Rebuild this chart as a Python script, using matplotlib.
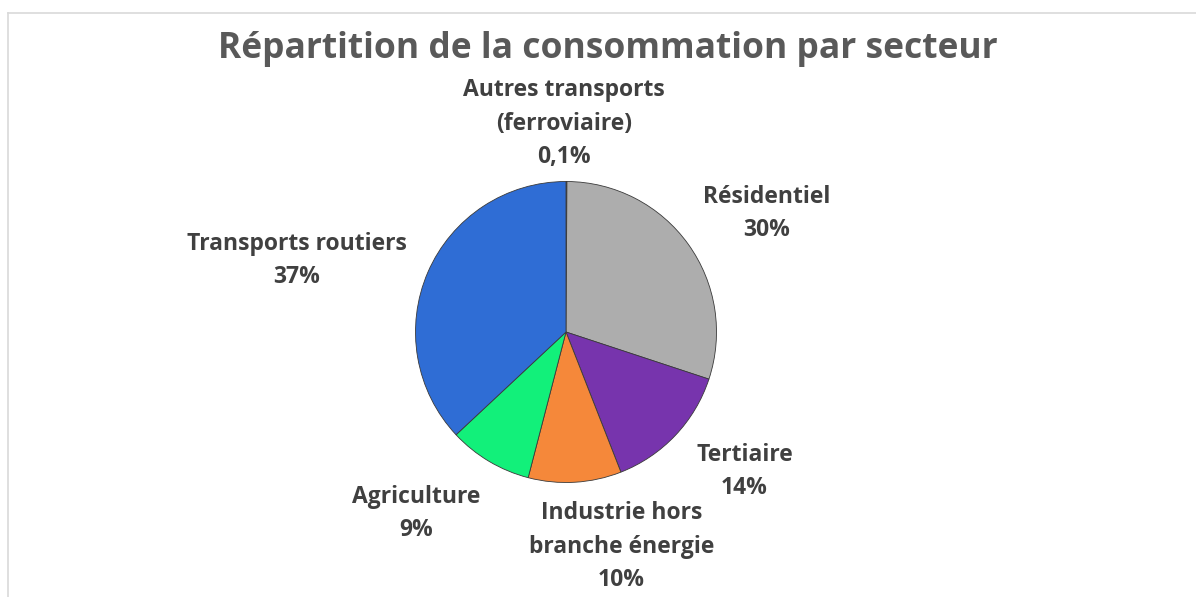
import numpy as np
import matplotlib.pyplot as plt
from matplotlib.lines import Line2D

# ---------------------------------------------------------
# DATA
# ---------------------------------------------------------
sectors = [
    "Autres transports\n(ferroviaire)",
    "Résidentiel",
    "Tertiaire",
    "Industrie hors\nbranche énergie",
    "Agriculture",
    "Transports routiers",
]
shares = [0.1, 30, 14, 10, 9, 37]
share_labels = ["0,1%", "30%", "14%", "10%", "9%", "37%"]

# ---------------------------------------------------------
# STYLE / LAYOUT
# ---------------------------------------------------------
colors = ["#7f7f7f", "#adadad", "#7734ad", "#f5883a", "#12f07a", "#2f6dd5"]
# label anchors in pixels (centre x, baseline of the last line)
label_px = [(564, 163), (766.5, 236), (744.5, 494),
            (621.5, 586), (416, 536), (296.5, 283)]

W, H, DPI = 1196, 597, 100
CX, CY, R = 566, 332, 150.5  # pie centre and radius in pixels

plt.rcParams['font.family'] = ['Open Sans', 'DejaVu Sans']

fig = plt.figure(figsize=(W / DPI, H / DPI), dpi=DPI)
ax = fig.add_axes([0, 0, 1, 1])

wedges, _ = ax.pie(shares, colors=colors, startangle=90, counterclock=False,
                   radius=1.0, wedgeprops=dict(edgecolor='#3a3a3a', linewidth=0.6))

ax.set_xlim(-CX / R, (W - CX) / R)
ax.set_ylim(-(H - CY) / R, CY / R)
ax.set_aspect('equal')
ax.axis('off')

for name, pct, (px, py) in zip(sectors, share_labels, label_px):
    ax.text((px - CX) / R, (CY - py) / R, f"{name}\n{pct}", ha='center', va='baseline',
            fontsize=16.5, fontweight='bold', color='#404040', linespacing=1.52)

fig.text(608 / W, 1 - 58 / H, "Répartition de la consommation par secteur",
         ha='center', va='baseline', fontsize=25.5, fontweight='bold', color='#595959')

# chart area frame (only top and left edges visible in the crop)
fig.add_artist(Line2D([8 / W, 1], [1 - 13 / H, 1 - 13 / H], color='#d9d9d9', lw=1.2))
fig.add_artist(Line2D([8 / W, 8 / W], [0, 1 - 13 / H], color='#d9d9d9', lw=1.2))

fig.savefig('out.png', dpi=DPI)
